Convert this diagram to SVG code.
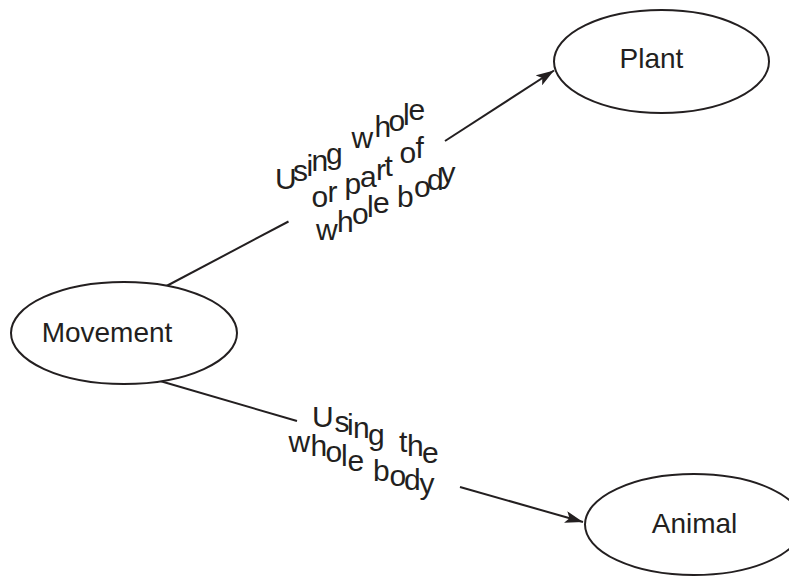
<svg xmlns="http://www.w3.org/2000/svg" width="789" height="576" viewBox="0 0 789 576">
<style>
.node{fill:#fff;stroke:#231f20;stroke-width:2}
.t{font-family:"Liberation Sans",Arial,sans-serif;font-size:28px;fill:#231f20}
.l{font-family:"Liberation Sans",Arial,sans-serif;font-size:30px;fill:#231f20}
.c{stroke:#231f20;stroke-width:2;fill:none}
</style>
<defs>
<marker id="ah" markerWidth="20" markerHeight="12" refX="18" refY="6" orient="auto" markerUnits="userSpaceOnUse">
<path d="M0,0 L18,6 L0,12 L4,6 z" fill="#231f20"/>
</marker>
</defs>
<rect width="789" height="576" fill="#fff"/>
<g id="connectors">
<line class="c" x1="166.5" y1="286" x2="288.5" y2="221.5"/>
<line class="c" x1="445" y1="141" x2="554" y2="70.5" marker-end="url(#ah)"/>
<line class="c" x1="160" y1="381" x2="297" y2="421"/>
<line class="c" x1="460" y1="487" x2="583" y2="522" marker-end="url(#ah)"/>
</g>
<g id="label-plant">
<text class="l" x="275 293 306.5 311.5 326 351.5 374.5 388.5 403 408.5" y="189 181 176 171 163.5 147.5 137 130.5 125 119.5">Usingwhole</text>
<text class="l" x="311.5 327.5 344.5 360 376 384.5 399.5 415.5" y="207 201.5 194 187 180 176 163 158">orpartof</text>
<text class="l" x="316 337 352 367 373 397 414 427 440.5" y="240 232 224 217 213 207 197 190 183">wholebody</text>
</g>
<g id="label-animal">
<text class="l" x="312 334.5 347 353 368 399 407 422" y="427 431.5 434.5 438 445 452 456 463">Usingthe</text>
<text class="l" x="288.5 310.5 325.5 341 347.5 373 389.5 404 419.5" y="452 455.5 462 466 471 481 486 490 494">wholebody</text>
</g>
<g id="movement">
<ellipse class="node" cx="124" cy="333" rx="113" ry="51"/>
<text class="t" x="107" y="342" text-anchor="middle">Movement</text>
</g>
<g id="plant">
<ellipse class="node" cx="661.5" cy="61.5" rx="107.5" ry="51.5"/>
<text class="t" x="651.5" y="68" text-anchor="middle">Plant</text>
</g>
<g id="animal">
<ellipse class="node" cx="694" cy="524.5" rx="109" ry="50.5"/>
<text class="t" x="694.5" y="533" text-anchor="middle">Animal</text>
</g>
</svg>
